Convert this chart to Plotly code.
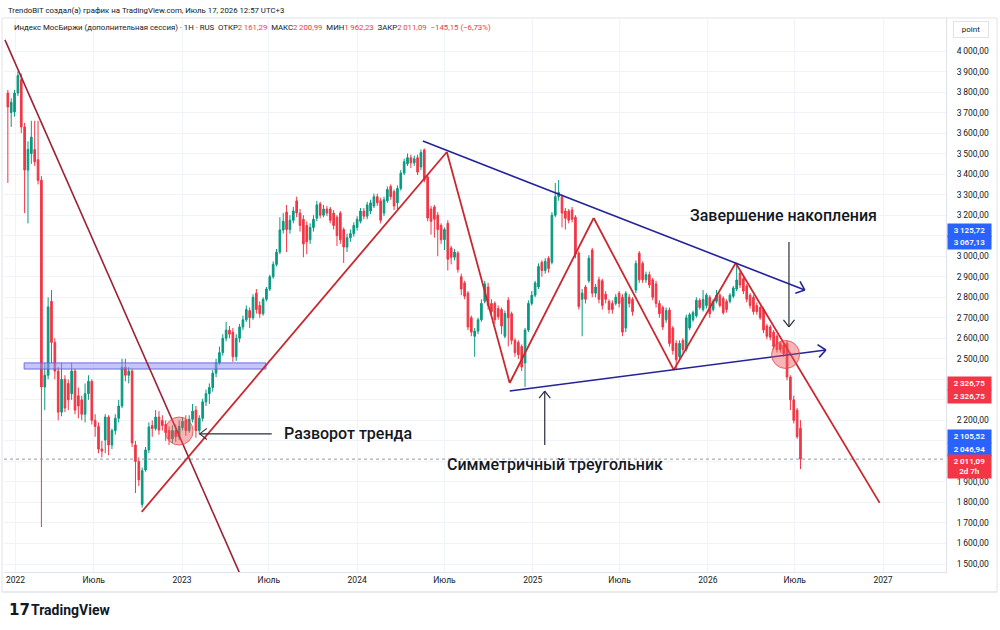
import math
import pandas as pd
import plotly.graph_objects as go

# ---------------- data: weekly candles ----------------
first_week = "2022-01-03"

open_ = [
    3795, 3700, 3703, 3795, 3860, 3630, 3420, 3500, 3520, 3470,
    3370, 2363, 2420, 2780, 2580, 2440, 2240, 2400, 2380, 2330,
    2440, 2320, 2300, 2230, 2330, 2390, 2200, 2170, 2060, 2104,
    2216, 2080, 2150, 2210, 2270, 2460, 2420, 2440, 2080, 2000,
    1790, 1958, 2056, 2175, 2160, 2216, 2200, 2180, 2150, 2110,
    2150, 2120, 2165, 2200, 2150, 2205, 2250, 2150, 2210, 2290,
    2330, 2360, 2430, 2480, 2530, 2600, 2640, 2630, 2510, 2600,
    2655, 2690, 2735, 2700, 2820, 2760, 2720, 2790, 2840, 2900,
    2960, 3020, 3128, 3215, 3130, 3175, 3270, 3210, 3180, 3150,
    3080, 3140, 3185, 3255, 3200, 3230, 3230, 3210, 3190, 3210,
    3130, 3045, 3090, 3110, 3140, 3170, 3220, 3195, 3220, 3245,
    3290, 3270, 3210, 3270, 3340, 3315, 3260, 3330, 3405, 3450,
    3480, 3455, 3480, 3435, 3518, 3386, 3230, 3240, 3200, 3150,
    3080, 3160, 3040, 2995, 3015, 2900, 2870, 2820, 2700, 2610,
    2635, 2690, 2780, 2850, 2770, 2770, 2745, 2740, 2610, 2785,
    2720, 2590, 2580, 2560, 2480, 2640, 2770, 2810, 2850, 2970,
    2930, 2990, 2970, 3200, 3290, 3290, 3220, 3220, 3225, 3190,
    3015, 2790, 2850, 2880, 3030, 2820, 2885, 2880, 2815, 2780,
    2770, 2770, 2820, 2800, 2650, 2800, 2790, 2835, 3015, 2965,
    2885, 2910, 2885, 2865, 2770, 2750, 2690, 2738, 2650, 2575,
    2510, 2590, 2545, 2650, 2690, 2710, 2785, 2740, 2760, 2800,
    2740, 2780, 2810, 2795, 2780, 2780, 2805, 2840, 2918, 2890,
    2855, 2810, 2800, 2760, 2750, 2740, 2660, 2655, 2630, 2610,
    2575, 2565, 2575, 2411, 2300, 2250, 2161.29,
]
high_ = [
    3810, 3770, 3810, 3900, 3890, 3650, 3560, 3660, 3660, 3660,
    3390, 2480, 2800, 2835, 2600, 2460, 2480, 2420, 2400, 2480,
    2450, 2360, 2320, 2380, 2420, 2400, 2230, 2190, 2100, 2230,
    2225, 2160, 2230, 2300, 2500, 2500, 2460, 2450, 2100, 2020,
    1970, 2070, 2190, 2200, 2250, 2245, 2225, 2200, 2170, 2175,
    2180, 2200, 2215, 2225, 2225, 2280, 2270, 2225, 2305, 2350,
    2380, 2445, 2500, 2560, 2620, 2680, 2660, 2650, 2620, 2670,
    2710, 2760, 2750, 2815, 2840, 2780, 2800, 2850, 2910, 2975,
    3035, 3190, 3210, 3250, 3200, 3240, 3290, 3230, 3200, 3170,
    3160, 3200, 3270, 3265, 3250, 3245, 3240, 3225, 3200, 3220,
    3140, 3110, 3130, 3165, 3195, 3235, 3235, 3265, 3275, 3305,
    3305, 3285, 3290, 3340, 3350, 3325, 3345, 3420, 3475, 3500,
    3495, 3490, 3495, 3520, 3525, 3395, 3245, 3250, 3215, 3160,
    3140, 3175, 3050, 3035, 3025, 2915, 2880, 2830, 2710, 2650,
    2700, 2790, 2880, 2870, 2790, 2780, 2760, 2750, 2735, 2800,
    2730, 2600, 2590, 2570, 2650, 2785, 2830, 2880, 2965, 2980,
    2990, 3000, 3215, 3357, 3371, 3300, 3235, 3230, 3240, 3200,
    3025, 2840, 2860, 3005, 3040, 2865, 2900, 2890, 2830, 2790,
    2785, 2815, 2830, 2815, 2830, 2815, 2800, 2980, 3025, 2975,
    2925, 2925, 2895, 2880, 2785, 2760, 2750, 2750, 2660, 2590,
    2590, 2600, 2715, 2725, 2735, 2800, 2795, 2835, 2820, 2810,
    2790, 2835, 2820, 2805, 2790, 2820, 2855, 2967, 2930, 2900,
    2865, 2820, 2810, 2775, 2760, 2750, 2670, 2665, 2640, 2620,
    2585, 2580, 2590, 2420, 2320, 2260, 2200.99,
]
low_ = [
    3357, 3630, 3680, 3780, 3600, 3210, 3160, 3450, 3440, 3350,
    1680, 2250, 2400, 2480, 2400, 2200, 2220, 2240, 2250, 2300,
    2230, 2210, 2200, 2190, 2300, 2180, 2120, 2040, 2020, 2040,
    2030, 2060, 2130, 2190, 2260, 2390, 2380, 2070, 1846, 1880,
    1775, 1950, 2040, 2120, 2150, 2130, 2150, 2100, 2080, 2090,
    2095, 2105, 2150, 2125, 2140, 2190, 2115, 2130, 2195, 2270,
    2280, 2340, 2410, 2470, 2515, 2585, 2600, 2485, 2490, 2580,
    2640, 2680, 2650, 2690, 2720, 2700, 2710, 2780, 2830, 2890,
    2950, 3010, 3110, 3020, 3110, 3160, 3190, 3120, 2995, 3010,
    3060, 3120, 3170, 3185, 3190, 3195, 3160, 3130, 3050, 3060,
    2967, 3020, 3070, 3095, 3125, 3160, 3180, 3180, 3205, 3235,
    3245, 3160, 3195, 3260, 3275, 3225, 3230, 3320, 3395, 3440,
    3430, 3440, 3395, 3420, 3360, 3170, 3105, 3090, 3000, 3060,
    3030, 2930, 2960, 2980, 2920, 2810, 2790, 2640, 2610, 2510,
    2620, 2680, 2770, 2740, 2710, 2670, 2690, 2620, 2600, 2560,
    2570, 2510, 2500, 2440, 2363, 2630, 2760, 2800, 2840, 2900,
    2915, 2920, 2960, 3190, 3270, 3140, 3130, 3160, 3165, 2990,
    2740, 2610, 2770, 2870, 2800, 2800, 2770, 2740, 2770, 2720,
    2720, 2760, 2750, 2610, 2630, 2750, 2710, 2820, 2870, 2870,
    2870, 2845, 2785, 2750, 2700, 2640, 2675, 2560, 2520, 2446,
    2495, 2530, 2535, 2640, 2680, 2700, 2740, 2730, 2745, 2700,
    2730, 2770, 2750, 2715, 2725, 2770, 2795, 2830, 2845, 2815,
    2775, 2745, 2715, 2715, 2690, 2625, 2595, 2590, 2545, 2530,
    2530, 2510, 2395, 2250, 2185, 2110, 1962.23,
]
close_ = [
    3727, 3750, 3795, 3880, 3630, 3420, 3520, 3580, 3460, 3370,
    2363, 2420, 2753, 2580, 2440, 2240, 2400, 2260, 2300, 2440,
    2250, 2270, 2230, 2330, 2390, 2200, 2170, 2060, 2050, 2216,
    2080, 2150, 2210, 2270, 2460, 2420, 2440, 2090, 2000, 1910,
    1955, 2056, 2168, 2160, 2216, 2153, 2175, 2140, 2110, 2150,
    2120, 2170, 2195, 2150, 2205, 2245, 2150, 2210, 2290, 2330,
    2360, 2430, 2480, 2530, 2600, 2640, 2620, 2510, 2600, 2655,
    2690, 2740, 2700, 2800, 2740, 2720, 2790, 2840, 2900, 2960,
    3020, 3128, 3170, 3130, 3175, 3220, 3210, 3150, 3060, 3070,
    3140, 3180, 3250, 3200, 3230, 3210, 3175, 3150, 3100, 3080,
    3045, 3090, 3110, 3150, 3180, 3220, 3195, 3250, 3260, 3290,
    3260, 3175, 3275, 3325, 3290, 3245, 3330, 3405, 3460, 3480,
    3455, 3475, 3410, 3505, 3371, 3186, 3170, 3180, 3130, 3080,
    3130, 2985, 2995, 3020, 2935, 2840, 2805, 2655, 2630, 2635,
    2690, 2770, 2865, 2760, 2730, 2690, 2705, 2660, 2720, 2700,
    2590, 2530, 2520, 2460, 2640, 2770, 2810, 2870, 2950, 2930,
    2975, 2940, 3200, 3290, 3310, 3210, 3185, 3175, 3180, 3010,
    2755, 2820, 2790, 2990, 2820, 2850, 2790, 2760, 2790, 2740,
    2740, 2800, 2770, 2630, 2820, 2770, 2730, 2965, 2885, 2885,
    2910, 2860, 2800, 2770, 2720, 2655, 2735, 2575, 2540, 2495,
    2575, 2545, 2700, 2715, 2725, 2785, 2750, 2790, 2810, 2720,
    2780, 2810, 2760, 2725, 2740, 2810, 2845, 2884, 2860, 2830,
    2790, 2760, 2730, 2730, 2700, 2640, 2610, 2605, 2560, 2545,
    2545, 2525, 2411, 2300, 2200, 2120, 2011.09,
]

price_ticks = list(range(1500, 4001, 100))
hidden_price_ticks = [3100, 2400, 2300, 2100, 2000]
time_tick_dates = ["2022-01-19", "2022-07-01", "2023-01-01", "2023-07-01", "2024-01-01",
                   "2024-07-01", "2025-01-01", "2025-07-01", "2026-01-01", "2026-07-01", "2027-01-01"]
time_tick_text = ["2022", "Июль", "2023", "Июль", "2024", "Июль", "2025", "Июль", "2026", "Июль", "2027"]

# drawings (date, price)
red_path_dates = ["2022-10-09", "2024-07-06", "2024-11-14", "2025-05-08", "2025-10-22", "2026-02-28", "2026-12-25"]
red_path_prices = [1754, 3508, 2382, 3186, 2446, 2967, 1798]
down_trend_dates = ["2021-12-28", "2023-05-01"]
down_trend_prices = [4054, 1456]
upper_blue_dates = ["2024-05-17", "2026-07-22"]
upper_blue_prices = [3561, 2835]
lower_blue_dates = ["2024-11-14", "2026-09-04"]
lower_blue_prices = [2343, 2543]
band_dates = ["2022-02-06", "2023-06-25"]
band_prices = [2450, 2480]
circle_dates = ["2022-12-26", "2026-06-12"]
circle_prices = [2148, 2521]

last_price = 2011.09

# ---------------- geometry helpers ----------------
W, H = 1000, 630
PL, PR, PT, PB = 4, 946, 18, 572
REF_DATE = pd.Timestamp("2023-01-01")
REF_PX = 182.0
PX_PER_DAY = 175.25 / 365.25
REF_PRICE, REF_PY, PX_PER_POINT = 4000.0, 51.0, 0.2052


def px_to_date(px):
    return REF_DATE + pd.Timedelta(days=(px - REF_PX) / PX_PER_DAY)


def date_to_px(d):
    return REF_PX + (pd.Timestamp(d) - REF_DATE) / pd.Timedelta(days=1) * PX_PER_DAY


def py_to_price(py):
    return REF_PRICE - (py - REF_PY) / PX_PER_POINT


def price_to_py(p):
    return REF_PY + (REF_PRICE - p) * PX_PER_POINT


def ds(d):
    return pd.Timestamp(d).strftime("%Y-%m-%d %H:%M:%S")


def xp(px):
    return (px - PL) / (PR - PL)


def yp(py):
    return (PB - py) / (PB - PT)


def fmt(v):
    s = f"{v:,.2f}"
    return s.replace(",", "\u2009").replace(".", ",")


UP = "#089981"
DN = "#f23645"
TXT = "#131722"
GRID = "#f0f3fa"
BORDER = "#e0e3eb"
RED_LINE = "#c8282e"
MAROON = "#9b2335"
NAVY = "#23239a"
BLACK = "#2a2e39"

fig = go.Figure()
dates = pd.date_range(first_week, periods=len(close_), freq="7D")
fig.add_trace(go.Candlestick(
    x=dates, open=open_, high=high_, low=low_, close=close_,
    increasing=dict(line=dict(color=UP, width=1), fillcolor=UP),
    decreasing=dict(line=dict(color=DN, width=1), fillcolor=DN),
    whiskerwidth=0, showlegend=False, hoverinfo="skip",
))

shapes = []


def seg(d0, p0, d1, p1, color, width):
    shapes.append(dict(type="line", xref="x", yref="y", x0=ds(d0), y0=p0, x1=ds(d1), y1=p1,
                       line=dict(color=color, width=width)))


def chevron(tip_d, tip_p, tail_d, tail_p, color, width, arm=10, ang=40):
    tx, ty = date_to_px(tip_d), price_to_py(tip_p)
    sx, sy = date_to_px(tail_d), price_to_py(tail_p)
    dx, dy = sx - tx, sy - ty
    n = math.hypot(dx, dy)
    ux, uy = dx / n, dy / n
    for s in (1, -1):
        a = math.radians(ang * s)
        rx = ux * math.cos(a) - uy * math.sin(a)
        ry = ux * math.sin(a) + uy * math.cos(a)
        ex, ey = tx + arm * rx, ty + arm * ry
        seg(px_to_date(ex), py_to_price(ey), tip_d, tip_p, color, width)


def circle(cd, cp, r):
    cx, cy = date_to_px(cd), price_to_py(cp)
    shapes.append(dict(type="circle", xref="x", yref="y",
                       x0=ds(px_to_date(cx - r)), x1=ds(px_to_date(cx + r)),
                       y0=py_to_price(cy + r), y1=py_to_price(cy - r),
                       fillcolor="rgba(242,82,82,0.42)", line=dict(color="rgba(230,60,60,0.75)", width=1)))


# last price dotted line
shapes.append(dict(type="line", xref="paper", yref="y", x0=0, x1=1, y0=last_price, y1=last_price,
                   line=dict(color="#9598a1", width=1, dash="dot")))

# horizontal band
shapes.append(dict(type="rect", xref="x", yref="y", x0=band_dates[0], x1=band_dates[1],
                   y0=band_prices[0], y1=band_prices[1],
                   fillcolor="rgba(150,150,245,0.55)", line=dict(color="rgba(95,95,225,0.9)", width=1)))

# maroon downtrend
seg(down_trend_dates[0], down_trend_prices[0], down_trend_dates[1], down_trend_prices[1], MAROON, 1.6)

# red zigzag
for i in range(len(red_path_dates) - 1):
    seg(red_path_dates[i], red_path_prices[i], red_path_dates[i + 1], red_path_prices[i + 1], RED_LINE, 1.8)

# blue triangle lines with arrow heads
seg(upper_blue_dates[0], upper_blue_prices[0], upper_blue_dates[1], upper_blue_prices[1], NAVY, 1.6)
chevron(upper_blue_dates[1], upper_blue_prices[1], upper_blue_dates[0], upper_blue_prices[0], NAVY, 1.6)
seg(lower_blue_dates[0], lower_blue_prices[0], lower_blue_dates[1], lower_blue_prices[1], NAVY, 1.6)
chevron(lower_blue_dates[1], lower_blue_prices[1], lower_blue_dates[0], lower_blue_prices[0], NAVY, 1.6)

# circles
for cd, cp in zip(circle_dates, circle_prices):
    circle(cd, cp, 14)

# black pointer arrows (tail -> tip)
pointer_arrows = [
    (("2023-07-07", 2134), ("2023-02-07", 2134)),
    (("2025-01-26", 2080), ("2025-01-26", 2343)),
    (("2026-06-19", 3069), ("2026-06-19", 2655)),
]
for (td, tp), (hd, hp) in pointer_arrows:
    seg(td, tp, hd, hp, BLACK, 1.2)
    chevron(hd, hp, td, tp, BLACK, 1.2, arm=9, ang=38)

# frame lines
shapes.append(dict(type="rect", xref="paper", yref="paper", x0=xp(2), x1=xp(997), y0=yp(592), y1=yp(18),
                   line=dict(color=BORDER, width=1), layer="below"))
shapes.append(dict(type="line", xref="paper", yref="paper", x0=xp(2), x1=xp(997), y0=yp(592), y1=yp(592),
                   line=dict(color=BORDER, width=1)))

annotations = []


def label(text, d, p, size=16):
    annotations.append(dict(text=text, xref="x", yref="y", x=ds(d), y=p, xanchor="left", yanchor="middle",
                            showarrow=False, font=dict(family="Roboto, sans-serif", size=size, color=TXT, weight=500)))


label("Разворот тренда", "2023-07-28", 2134)
label("Симметричный треугольник", "2024-07-02", 1987)
label("Завершение накопления", "2025-11-20", 3196)

# header
annotations.append(dict(text="TrendoBIT создал(а) график на TradingView.com, Июль 17, 2026 12:57 UTC+3",
                        xref="paper", yref="paper", x=xp(6), y=yp(10), xanchor="left", yanchor="middle",
                        showarrow=False, font=dict(size=7.8, color=TXT)))
red_num = "<span style='color:#f23645'>%s</span>"
nb = "\u00a0\u00a0"
legend_text = ("Индекс МосБиржи (дополнительная сессия) · 1H · RUS" + nb +
               "ОТКР" + red_num % fmt(2161.29) + nb + "МАКС" + red_num % fmt(2200.99) + nb +
               "МИН" + red_num % fmt(1962.23) + nb + "ЗАКР" + red_num % fmt(2011.09) + nb +
               red_num % "\u2212145,15 (\u22126,73%)")
annotations.append(dict(text=legend_text, xref="paper", yref="paper", x=xp(12), y=yp(27), xanchor="left",
                        yanchor="middle", showarrow=False, font=dict(size=7.8, color=TXT)))

# price axis unit box
annotations.append(dict(text="point", xref="paper", yref="paper", x=xp(971), y=yp(30), xanchor="center",
                        yanchor="middle", showarrow=False, font=dict(size=8, color=TXT),
                        bordercolor=BORDER, borderwidth=1, borderpad=3, width=28))

# price axis value boxes: (value, text, color, yshift)
axis_boxes = [
    (3125.72, fmt(3125.72), "#2962ff", 0),
    (3067.13, fmt(3067.13), "#2962ff", 0),
    (2326.75, fmt(2326.75), "#f23645", 11),
    (2326.75, fmt(2326.75), "#f23645", -2),
    (2105.52, fmt(2105.52), "#2962ff", 3),
    (2046.94, fmt(2046.94), "#2962ff", 2),
    (2011.09, fmt(2011.09) + "<br>2d 7h", "#f23645", -7),
]
for v, t, c, ys in axis_boxes:
    two = "<br>" in t
    annotations.append(dict(text=t, xref="paper", yref="y", x=1, y=v, xanchor="left", yanchor="middle",
                            xshift=1, yshift=ys, showarrow=False, bgcolor=c, borderpad=1, width=41,
                            height=21 if two else 11, align="center",
                            font=dict(size=8, color="white", weight=600)))

# TradingView logo
annotations.append(dict(text="<b>17</b>", xref="paper", yref="paper", x=xp(7), y=yp(610), xanchor="left",
                        yanchor="middle", showarrow=False,
                        font=dict(family="DejaVu Sans", size=15, color=TXT)))
annotations.append(dict(text="<b>TradingView</b>", xref="paper", yref="paper", x=xp(29), y=yp(610),
                        xanchor="left", yanchor="middle", showarrow=False,
                        font=dict(family="Roboto, sans-serif", size=14, color=TXT)))

ticktext_y = ["" if v in hidden_price_ticks else fmt(v) for v in price_ticks]

fig.update_layout(
    width=W, height=H,
    margin=dict(l=PL, r=W - PR, t=PT, b=H - PB),
    paper_bgcolor="white", plot_bgcolor="white",
    showlegend=False,
    font=dict(family="Roboto, Arial, sans-serif", color=TXT),
    shapes=shapes, annotations=annotations,
    xaxis=dict(type="date", range=[ds(px_to_date(PL)), ds(px_to_date(PR))],
               rangeslider=dict(visible=False), tickmode="array",
               tickvals=time_tick_dates, ticktext=time_tick_text,
               showgrid=True, gridcolor=GRID, gridwidth=1, ticks="",
               tickfont=dict(size=8.5, color=TXT), showline=True, linecolor=BORDER,
               zeroline=False, fixedrange=True),
    yaxis=dict(side="right", range=[py_to_price(PB), py_to_price(PT)], tickmode="array",
               tickvals=price_ticks, ticktext=ticktext_y, showgrid=True, gridcolor=GRID, gridwidth=1,
               ticks="", ticklabelstandoff=8, tickfont=dict(size=8.5, color=TXT),
               showline=True, linecolor=BORDER, zeroline=False, fixedrange=True),
)

fig.write_html("out.html")
